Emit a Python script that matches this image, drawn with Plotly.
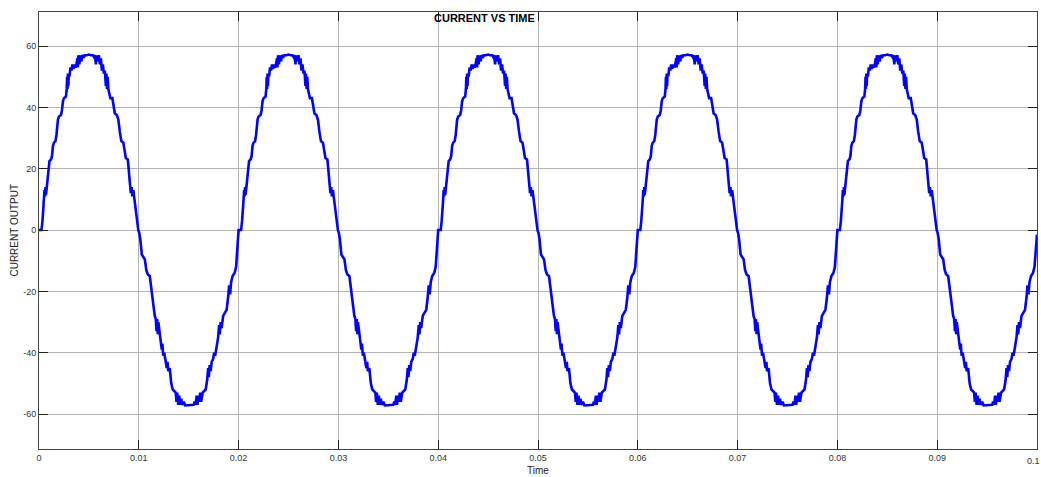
import plotly.graph_objects as go

# One period (ms) of the stepped current waveform
pos_t = [0.00, 0.25, 0.35, 0.50, 0.55, 0.60, 0.65, 0.70, 0.78, 0.85, 0.95, 1.05, 1.20, 1.30, 1.40,
         1.50, 1.65, 1.75, 1.90, 2.00, 2.20, 2.30, 2.40, 2.50, 2.70, 2.78, 2.82, 2.86, 2.90, 2.94,
         2.98, 3.05, 3.15, 3.25, 3.35, 3.45, 3.55, 3.65, 3.75, 3.85, 3.90, 3.95, 4.05, 4.12, 4.25,
         4.35, 4.50, 4.60, 4.80, 5.00, 5.20, 5.40, 5.50, 5.60, 5.70, 5.78, 5.90, 6.00, 6.10, 6.20,
         6.30, 6.40, 6.50, 6.60, 6.70, 6.75, 6.82, 6.88, 6.95, 7.05, 7.15, 7.35, 7.45, 7.60, 7.80,
         7.95, 8.10, 8.25, 8.45, 8.55, 8.70, 8.90, 9.00, 9.15, 9.20, 9.28, 9.35, 9.45, 9.55, 9.75,
         9.95]
pos_v = [0, 0, 3, 10, 13, 11, 14, 11.5, 14, 15, 20, 22.5, 23, 24, 27.5,
         28.5, 29, 31, 36, 37, 37.5, 39, 42, 43, 43.5, 46, 50, 46, 51, 47,
         51, 50, 53, 52, 54, 52.5, 54, 53, 54, 56, 53, 57, 54, 57, 55,
         57, 56.5, 57, 57, 57.2, 57, 57, 56.5, 57, 54, 57, 55, 57, 54, 56,
         52, 54, 51, 52, 47, 51, 46, 50, 46, 44, 43, 43, 41, 38, 37.5,
         36, 32, 29, 28.5, 26, 23.5, 23, 20, 15, 12, 14, 11, 13, 10, 4,
         0]
neg_t = [10.05, 10.15, 10.30, 10.45, 10.60, 10.75, 10.90, 11.10, 11.25, 11.40, 11.50, 11.60, 11.70,
         11.78, 11.84, 11.90, 11.96, 12.05, 12.20, 12.30, 12.36, 12.45, 12.55, 12.70, 12.80, 12.88,
         12.95, 13.10, 13.25, 13.40, 13.55, 13.70, 13.78, 13.85, 13.95, 14.05, 14.15, 14.25, 14.35,
         14.50, 14.65, 14.90, 15.10, 15.30, 15.50, 15.60, 15.70, 15.80, 15.88, 15.96, 16.05, 16.15,
         16.25, 16.40, 16.55, 16.70, 16.85, 16.95, 17.02, 17.10, 17.20, 17.30, 17.45, 17.55, 17.65,
         17.80, 17.95, 18.05, 18.12, 18.20, 18.30, 18.45, 18.60, 18.80, 18.95, 19.05, 19.15, 19.25,
         19.40, 19.60, 19.75, 19.90]
neg_v = [-1, -3, -8, -9, -9.5, -13, -14.5, -15, -19, -24, -25, -28, -29,
         -33, -29, -34, -30, -33, -37, -39, -37, -41, -40, -43, -45, -43,
         -46, -45, -50, -52, -52.5, -53, -56, -53, -57, -54, -57, -55, -57,
         -56, -57.2, -57.2, -57.2, -57.2, -57, -56, -57, -54, -57, -54, -56, -53,
         -56, -53, -52.5, -52, -49, -45, -48, -44, -46, -43, -42, -40, -41,
         -38, -35, -31, -34, -30, -32, -28, -27, -26, -22, -18, -21, -17,
         -15, -14, -12, -5]
n_periods = 5
period_ms = 20.0

x_ticks = [0, 0.01, 0.02, 0.03, 0.04, 0.05, 0.06, 0.07, 0.08, 0.09, 0.1]
x_labels = ["0", "0.01", "0.02", "0.03", "0.04", "0.05", "0.06", "0.07", "0.08", "0.09", "0.1"]
y_ticks = [-60, -40, -20, 0, 20, 40, 60]
y_labels = ["-60", "-40", "-20", "0", "20", "40", "60"]

t_all, v_all = [], []
for k in range(n_periods):
    for tt, vv in zip(pos_t + neg_t, pos_v + neg_v):
        t_all.append((tt + k * period_ms) / 1000.0)
        v_all.append(vv)
t_all.append(n_periods * period_ms / 1000.0)
v_all.append(-1.5)

FONT = "Liberation Sans, Arial"
TICKFONT = dict(family=FONT, size=9, color="#333333")

fig = go.Figure()
fig.add_trace(go.Scatter(x=t_all, y=v_all, mode="lines",
                         line=dict(color="#0000ff", width=2.6), hoverinfo="skip"))

axis_common = dict(showgrid=True, gridcolor="#b4b4b4", gridwidth=1, zeroline=False,
                   showline=True, linecolor="#444444", linewidth=1, mirror="ticks",
                   ticks="inside", ticklen=9, tickcolor="#222222", tickwidth=1, automargin=False,
                   tickfont=TICKFONT)

# last x label is drawn as an annotation because it sits on the page edge
fig.update_xaxes(range=[0, 0.1], tickvals=x_ticks, ticktext=x_labels[:-1] + [""], **axis_common)
fig.update_yaxes(range=[-71.4, 71.1], tickvals=y_ticks, ticktext=y_labels, **axis_common)

fig.add_annotation(text=x_labels[-1], xref="paper", yref="paper", x=1.004, y=-0.013,
                   xanchor="right", yanchor="top", showarrow=False, font=TICKFONT,
                   borderpad=0)
fig.add_annotation(text="<b>CURRENT VS TIME</b>", xref="paper", yref="paper",
                   x=0.446, y=0.986, xanchor="center", yanchor="middle", showarrow=False,
                   font=dict(family=FONT, size=11, color="#000000"))
fig.add_annotation(text="Time", xref="paper", yref="paper",
                   x=0.5, y=-0.049, xanchor="center", yanchor="middle", showarrow=False,
                   font=dict(family=FONT, size=10, color="#222222"))
fig.add_annotation(text="CURRENT OUTPUT", xref="paper", yref="paper", textangle=-90,
                   x=-0.025, y=0.5, xanchor="center", yanchor="middle", showarrow=False,
                   font=dict(family=FONT, size=10, color="#222222"))

fig.update_layout(width=1041, height=477, margin=dict(l=39, r=4, t=12, b=28),
                  plot_bgcolor="white", paper_bgcolor="white", showlegend=False)

fig.write_html("out.html", config={"displayModeBar": False},
               post_script="document.body.style.margin='0';document.body.style.overflow='hidden';")
